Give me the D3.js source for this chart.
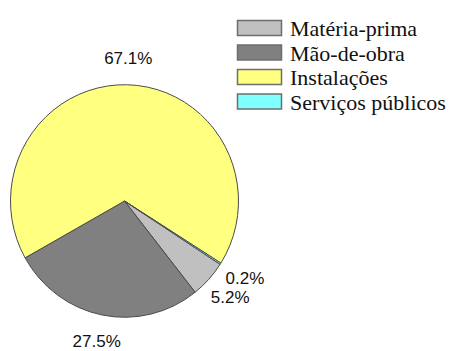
<!DOCTYPE html>
<html>
<head>
<meta charset="utf-8">
<script src="https://cdn.jsdelivr.net/npm/d3@7"></script>
<style>
  html, body { margin: 0; padding: 0; background: #ffffff; }
  svg { display: block; }
</style>
</head>
<body>
<svg id="chart" width="450" height="351"></svg>
<script>
// Cost breakdown (percent of total)
const categories = ["Matéria-prima", "Mão-de-obra", "Instalações", "Serviços públicos"];
const values = [5.2, 27.5, 67.1, 0.2];
const labels = ["5.2%", "27.5%", "67.1%", "0.2%"];
const colors = ["#c0c0c0", "#808080", "#ffff80", "#80ffff"];

const svg = d3.select("#chart");
const cx = 124.5, cy = 201, radius = 114, yStretch = 1.02;

const pie = d3.pie()
  .sort(null)
  .value(d => d)
  .startAngle(123 * Math.PI / 180)
  .endAngle((123 + 360) * Math.PI / 180);

const arcs = pie(values);
const arc = d3.arc().innerRadius(0).outerRadius(radius);
const labelArc = d3.arc().innerRadius(143).outerRadius(143);

const pieG = svg.append("g")
  .attr("transform", `translate(${cx},${cy}) scale(1,${yStretch})`);

pieG.selectAll("path.slice")
  .data(arcs)
  .join("path")
  .attr("class", "slice")
  .attr("d", arc)
  .attr("fill", (d, i) => colors[i])
  .attr("stroke", "#4a4a4a")
  .attr("stroke-width", 1)
  .attr("vector-effect", "non-scaling-stroke");

// Percentage labels around the pie
svg.append("g")
  .selectAll("text")
  .data(arcs)
  .join("text")
  .attr("x", d => cx + labelArc.centroid(d)[0])
  .attr("y", d => cy + labelArc.centroid(d)[1])
  .attr("text-anchor", "middle")
  .attr("dy", "0.35em")
  .style("font-family", "Liberation Sans")
  .style("font-size", "17px")
  .attr("fill", "#111")
  .text((d, i) => labels[i]);

// Legend
const legend = svg.append("g").attr("transform", "translate(237,20)");
const rowH = 24.5;
const rows = legend.selectAll("g")
  .data(categories)
  .join("g")
  .attr("transform", (d, i) => `translate(0,${i * rowH})`);

rows.append("rect")
  .attr("x", 0.5).attr("y", 0.5)
  .attr("width", 44).attr("height", 15)
  .attr("fill", (d, i) => colors[i])
  .attr("stroke", "#6e6e6e")
  .attr("stroke-width", 1.5);

rows.append("text")
  .attr("x", 53)
  .attr("y", 16)
  .style("font-family", "Liberation Serif")
  .style("font-size", "22px")
  .attr("fill", "#111")
  .text(d => d);
</script>
</body>
</html>
